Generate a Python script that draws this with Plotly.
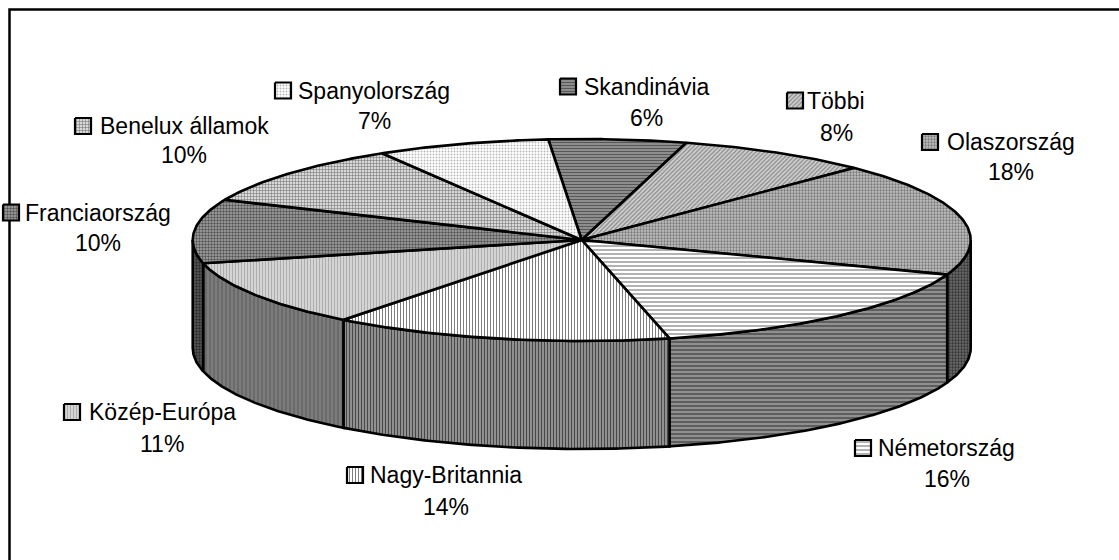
import numpy as np
import plotly.graph_objects as go

# ---------------- data (clockwise from the top) ----------------
categories = ["Skandinávia", "Többi", "Olaszország", "Németország", "Nagy-Britannia",
              "Közép-Európa", "Franciaország", "Benelux államok", "Spanyolország"]
shares = [5.7, 8.0, 18.2, 15.8, 14.1, 10.8, 10.2, 9.9, 7.2]

# ---------------- style / layout constants ----------------
W, H = 1119, 560
CX, CY, RX, RY, DEPTH = 581.7, 240.0, 389.0, 101.0, 108.0
START_DEG = -4.93          # first slice starts slightly left of 12 o'clock
FONT = dict(family="Liberation Sans, Arial, sans-serif", size=23, color="black")
EDGE = dict(color="black", width=2.6)

top_patterns = [
    dict(shape="-", fgcolor="black", bgcolor="#b0b0b0", size=3, solidity=0.6),
    dict(shape="/", fgcolor="#404040", bgcolor="#d0d0d0", size=3, solidity=0.4),
    dict(shape=".", fgcolor="#303030", bgcolor="#c0c0c0", size=3, solidity=0.45),
    dict(shape="-", fgcolor="black", bgcolor="white", size=4, solidity=0.3),
    dict(shape="|", fgcolor="black", bgcolor="white", size=3, solidity=0.35),
    dict(shape="|", fgcolor="#808080", bgcolor="#d4d4d4", size=3, solidity=0.3),
    dict(shape=".", fgcolor="black", bgcolor="#a8a8a8", size=3, solidity=0.5),
    dict(shape="+", fgcolor="black", bgcolor="#d8d8d8", size=3, solidity=0.3),
    dict(shape=".", fgcolor="#707070", bgcolor="white", size=3, solidity=0.3),
]
side_patterns = [
    dict(shape="-", fgcolor="black", bgcolor="#707070", size=4, solidity=0.5),
    dict(shape="/", fgcolor="black", bgcolor="#808080", size=3, solidity=0.3),
    dict(shape=".", fgcolor="black", bgcolor="#6a6a6a", size=3, solidity=0.45),
    dict(shape="-", fgcolor="black", bgcolor="#909090", size=4, solidity=0.35),
    dict(shape="|", fgcolor="black", bgcolor="#909090", size=3, solidity=0.35),
    dict(shape="|", fgcolor="#404040", bgcolor="#7c7c7c", size=4, solidity=0.3),
    dict(shape=".", fgcolor="black", bgcolor="#5a5a5a", size=3, solidity=0.5),
    dict(shape="+", fgcolor="black", bgcolor="#808080", size=4, solidity=0.25),
    dict(shape=".", fgcolor="black", bgcolor="#a0a0a0", size=3, solidity=0.3),
]

# label placement: (text centre x, name line y, percent line y, key left x)
label_pos = {
    "Skandinávia": (646.5, 86.5, 117.5, 560),
    "Többi": (836, 100.5, 132.5, 787),
    "Olaszország": (1011, 142, 172, 922),
    "Németország": (946.6, 448, 479, 855),
    "Nagy-Britannia": (446, 475, 507, 347),
    "Közép-Európa": (162, 412, 444, 64),
    "Franciaország": (98, 212.5, 242.5, 3),
    "Benelux államok": (184, 126, 154.5, 75),
    "Spanyolország": (374, 90.5, 120.5, 275),
}
KEY = 16

# ---------------- geometry from the data ----------------
vals = np.array(shares, dtype=float)
frac = vals / vals.sum()
bounds = START_DEG + 360.0 * np.concatenate([[0.0], np.cumsum(frac)])
pct_labels = [f"{round(f * 100):.0f}%" for f in frac]


def arc(t0, t1, dy=0.0):
    n = max(int(abs(t1 - t0) * 2) + 2, 3)
    t = np.radians(np.linspace(t0, t1, n))
    return CX + RX * np.sin(t), CY - RY * np.cos(t) + dy


fig = go.Figure()

# side faces (front half only: 90..270 degrees)
for i, name in enumerate(categories):
    a0, a1 = bounds[i], bounds[i + 1]
    s0, s1 = max(a0, 90.0), min(a1, 270.0)
    if s1 <= s0:
        continue
    xt, yt = arc(s0, s1)
    xb, yb = arc(s1, s0, DEPTH)
    xs = np.concatenate([xt, xb, xt[:1]])
    ys = np.concatenate([yt, yb, yt[:1]])
    fig.add_trace(go.Scatter(x=xs, y=ys, mode="lines", fill="toself",
                             fillcolor=side_patterns[i]["bgcolor"],
                             fillpattern=side_patterns[i], line=EDGE,
                             hoverinfo="skip", showlegend=False))

# top faces
for i, name in enumerate(categories):
    a0, a1 = bounds[i], bounds[i + 1]
    xa, ya = arc(a0, a1)
    xs = np.concatenate([[CX], xa, [CX]])
    ys = np.concatenate([[CY], ya, [CY]])
    fig.add_trace(go.Scatter(x=xs, y=ys, mode="lines", fill="toself",
                             fillcolor=top_patterns[i]["bgcolor"],
                             fillpattern=top_patterns[i], line=EDGE,
                             hoverinfo="skip", showlegend=False))

# data labels with legend keys
annotations = []
for i, name in enumerate(categories):
    tx, ny, py, kx = label_pos[name]
    kxs = [kx, kx + KEY, kx + KEY, kx, kx]
    kys = [ny - KEY / 2, ny - KEY / 2, ny + KEY / 2, ny + KEY / 2, ny - KEY / 2]
    fig.add_trace(go.Scatter(x=kxs, y=kys, mode="lines", fill="toself",
                             fillcolor=top_patterns[i]["bgcolor"],
                             fillpattern=top_patterns[i],
                             line=dict(color="black", width=2.2),
                             hoverinfo="skip", showlegend=False))
    annotations.append(dict(x=tx, y=ny, text=name, showarrow=False, font=FONT,
                            xanchor="center", yanchor="middle", xref="x", yref="y"))
    annotations.append(dict(x=tx, y=py, text=pct_labels[i], showarrow=False, font=FONT,
                            xanchor="center", yanchor="middle", xref="x", yref="y"))

fig.update_layout(
    width=W, height=H,
    margin=dict(l=0, r=0, t=0, b=0),
    paper_bgcolor="white", plot_bgcolor="white",
    xaxis=dict(range=[0, W], visible=False, fixedrange=True),
    yaxis=dict(range=[H, 0], visible=False, fixedrange=True),
    annotations=annotations,
    shapes=[dict(type="rect", xref="x", yref="y", x0=9.5, y0=9.5, x1=W + 20, y1=H + 20,
                 line=dict(color="black", width=2.5), layer="below")],
)

fig.write_html("out.html", config={"displayModeBar": False, "staticPlot": True},
               post_script="document.body.style.margin='0px';document.body.style.overflow='hidden';")
